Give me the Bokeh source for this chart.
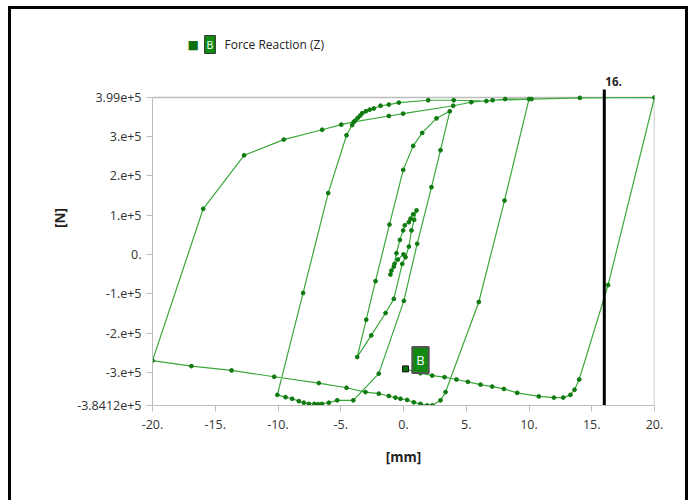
from bokeh.plotting import figure
from bokeh.models import FixedTicker, Label
from bokeh.embed import file_html
from bokeh.resources import INLINE

# ---- data: displacement [mm] and force reaction [N] along the load path ----
disp_mm = [
    0.0, -0.45, -0.77, -1.04, -0.96, -0.72, -0.56, -0.29, -0.03, 0.10, 0.43, 0.56, 0.77, 1.04,
    0.85, 0.64, 0.43, 0.16, -0.10,
    -0.77, -1.43, -2.57, -3.69,
    -2.97, -2.23, -1.12, -0.02, 0.77, 1.49, 2.63, 3.69,
    2.95, 2.23, 1.09, 0.03, -1.97, -4.00, -5.28, -5.95, -6.50, -6.80, -7.10, -7.54, -7.94,
    -8.34, -8.87, -9.40, -10.05,
    -8.00, -6.00, -4.54, -4.09, -3.85, -3.65, -3.45, -3.29, -3.00, -2.70, -2.37, -1.83, -1.17,
    -0.37, 1.97, 4.00, 6.60, 8.10, 10.00,
    8.05, 6.00, 3.35, 2.95, 2.29, 1.89, 1.35, 0.82, 0.29, -0.24, -0.64, -1.17, -1.97, -3.03,
    -4.54, -6.75, -10.30, -13.70, -16.90, -20.00,
    -15.96, -12.70, -9.54, -6.48, -4.96, -3.96, -1.17, -0.03, 3.96, 5.40, 7.10, 10.20, 14.05, 20.00,
    16.30, 14.00, 13.63, 13.30, 12.73, 11.98, 10.78, 9.06, 8.00, 7.07, 6.14, 5.13, 4.22, 3.27,
    2.29, 1.35, 0.16,
]
force_N = [
    0.0, -0.13e5, -0.31e5, -0.51e5, -0.41e5, -0.24e5, 0.03e5, 0.37e5, 0.61e5, 0.74e5, 0.82e5, 0.91e5, 1.02e5, 1.12e5,
    0.88e5, 0.61e5, 0.20e5, -0.07e5, -0.24e5,
    -1.13e5, -1.49e5, -2.06e5, -2.61e5,
    -1.66e5, -0.68e5, 0.76e5, 2.15e5, 2.76e5, 3.09e5, 3.46e5, 3.64e5,
    2.65e5, 1.71e5, 0.27e5, -1.18e5, -3.03e5, -3.71e5, -3.71e5, -3.77e5, -3.80e5, -3.81e5, -3.80e5, -3.80e5, -3.77e5,
    -3.73e5, -3.67e5, -3.63e5, -3.57e5,
    -0.98e5, 1.56e5, 3.03e5, 3.29e5, 3.40e5, 3.47e5, 3.53e5, 3.59e5, 3.64e5, 3.68e5, 3.71e5, 3.78e5, 3.81e5,
    3.86e5, 3.92e5, 3.92e5, 3.90e5, 3.95e5, 3.95e5,
    1.37e5, -1.21e5, -3.50e5, -3.71e5, -3.84e5, -3.84e5, -3.80e5, -3.76e5, -3.70e5, -3.67e5, -3.64e5, -3.60e5, -3.54e5, -3.50e5,
    -3.39e5, -3.27e5, -3.11e5, -2.95e5, -2.84e5, -2.70e5,
    1.16e5, 2.52e5, 2.92e5, 3.17e5, 3.30e5, 3.37e5, 3.52e5, 3.58e5, 3.78e5, 3.87e5, 3.92e5, 3.95e5, 3.98e5, 3.99e5,
    -0.78e5, -3.18e5, -3.44e5, -3.57e5, -3.64e5, -3.64e5, -3.61e5, -3.52e5, -3.42e5, -3.36e5, -3.31e5, -3.24e5, -3.18e5, -3.12e5,
    -3.08e5, -3.02e5, -2.91e5,
]

x_ticks = [-20, -15, -10, -5, 0, 5, 10, 15, 20]
x_tick_labels = ["-20.", "-15.", "-10.", "-5.", "0.", "5.", "10.", "15.", "20."]
y_ticks = [3.99e5, 3e5, 2e5, 1e5, 0, -1e5, -2e5, -3e5, -3.8412e5]
y_tick_labels = ["3.99e+5", "3.e+5", "2.e+5", "1.e+5", "0.", "-1.e+5", "-2.e+5", "-3.e+5", "-3.8412e+5"]

cursor_x = 16
cursor_text = "16."
series_name = "Force Reaction  (Z)"
series_tag = "B"

LINE_GREEN = "#3aa83a"
DOT_GREEN = "#0f7a0f"
TAG_GREEN = "#108a10"
AXIS_GRAY = "#bdbdbd"
FONT = "Open Sans"

# ---- layout (pixels) ----
W, H = 694, 500
LEFT, RIGHT, BOTTOM = 152, 40, 95
AXIS_TOP = 97          # pixel row of the top of the data box
CANVAS_TOP = 30        # frame extends above the data box to host legend / cursor label
ymin, ymax = y_ticks[-1], y_ticks[0]
px_per_unit = (H - BOTTOM - AXIS_TOP) / (ymax - ymin)
frame_top_value = ymin + (H - BOTTOM - CANVAS_TOP) / px_per_unit

shadow = ", ".join([
    "inset 8px 0 0 0 white", "inset -6px 0 0 0 white", "inset 0 6px 0 0 white",
    "inset 11px 0 0 0 black", "inset -9px 0 0 0 black", "inset 0 9px 0 0 black",
])

p = figure(width=W, height=H,
           x_range=(x_ticks[0], x_ticks[-1]), y_range=(ymin, frame_top_value),
           output_backend="svg", toolbar_location=None,
           min_border_left=LEFT, min_border_right=RIGHT, min_border_top=CANVAS_TOP,
           min_border_bottom=BOTTOM,
           styles={"background-color": "white", "box-shadow": shadow})
p.border_fill_color = None
p.background_fill_color = "white"
p.outline_line_color = None
p.xgrid.visible = False
p.ygrid.visible = False

for ax, ticks, labels in ((p.xaxis, x_ticks, x_tick_labels), (p.yaxis, y_ticks, y_tick_labels)):
    ax.ticker = FixedTicker(ticks=ticks, minor_ticks=[])
    ax.major_label_overrides = {t: l for t, l in zip(ticks, labels)}
    ax.axis_line_color = AXIS_GRAY
    ax.major_tick_line_color = AXIS_GRAY
    ax.major_tick_out = 6
    ax.major_tick_in = 0
    ax.minor_tick_line_color = None
    ax.major_label_text_font = FONT
    ax.major_label_text_font_size = "12.5px"
    ax.major_label_text_color = "#333333"
    ax.axis_label_text_font = FONT
    ax.axis_label_text_font_style = "bold"
    ax.axis_label_text_font_size = "13.5px"
    ax.axis_label_text_color = "#222222"
p.yaxis.bounds = (ymin, ymax)

p.xaxis.axis_label = "[mm]"
p.yaxis.axis_label = "[N]"
p.xaxis.major_label_standoff = 8
p.yaxis.major_label_standoff = 5
p.xaxis.axis_label_standoff = 16
p.yaxis.axis_label_standoff = 5

# top and right edges of the data box
p.segment(x0=[x_ticks[0], x_ticks[-1]], y0=[ymax, ymin], x1=[x_ticks[-1], x_ticks[-1]], y1=[ymax, ymax],
          line_color=AXIS_GRAY, line_width=1.5)

p.line(disp_mm, force_N, line_color=LINE_GREEN, line_width=1.2)
p.scatter(disp_mm, force_N, size=3.8, fill_color=DOT_GREEN, line_color=DOT_GREEN)

# cursor line (pokes 8 px above the data box)
cursor_top = ymax + 8 / px_per_unit
p.segment(x0=[cursor_x], y0=[ymin], x1=[cursor_x], y1=[cursor_top], line_color="black", line_width=3)
p.add_layout(Label(x=cursor_x, y=ymax, text=cursor_text, x_offset=1, y_offset=12,
                   text_align="left", text_baseline="bottom", text_font=FONT,
                   text_font_style="bold", text_font_size="11.5px", text_color="#222222"))

# end-point tag "B"
p.scatter([disp_mm[-1]], [force_N[-1]], marker="square", size=6,
          fill_color="#0c6e0c", line_color="#111111")
p.add_layout(Label(x=disp_mm[-1], y=force_N[-1], text=series_tag, x_offset=15, y_offset=9,
                   text_align="center", text_baseline="middle", text_color="white",
                   text_font=FONT, text_font_size="13px",
                   background_fill_color=TAG_GREEN, border_line_color="#555555",
                   border_line_width=2, padding=4))

# legend (screen units measured from the frame's bottom-left corner)
leg_y = (H - BOTTOM) - 44
p.add_layout(Label(x=35, y=leg_y, x_units="screen", y_units="screen", text="\u25a0",
                   text_align="left", text_baseline="middle", text_color="#0c6e0c",
                   text_font="DejaVu Sans", text_font_size="12px"))
p.add_layout(Label(x=57.5, y=leg_y, x_units="screen", y_units="screen", text=series_tag,
                   text_align="center", text_baseline="middle", text_color="white",
                   text_font=FONT, text_font_size="10.5px",
                   background_fill_color=TAG_GREEN, border_line_color="#333333",
                   border_line_width=1, padding=2))
p.add_layout(Label(x=72, y=leg_y, x_units="screen", y_units="screen", text=series_name,
                   text_align="left", text_baseline="middle", text_color="#222222",
                   text_font=FONT, text_font_size="12px"))

open("out.html", "w").write(file_html(p, INLINE))
